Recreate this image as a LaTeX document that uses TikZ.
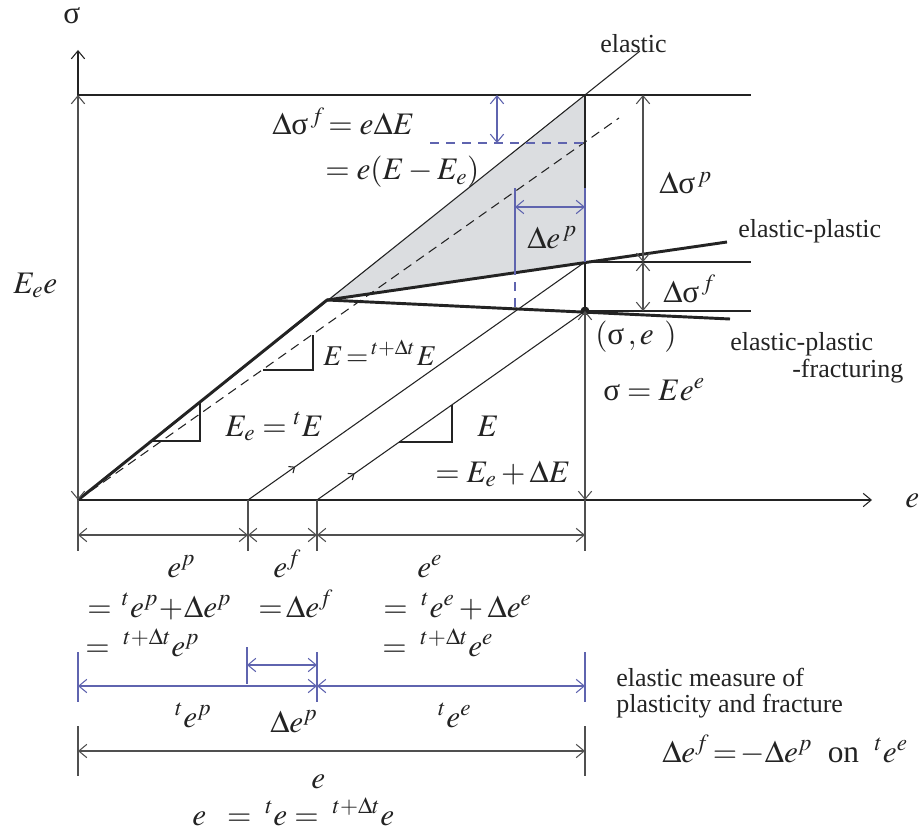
\documentclass[tikz,border=0pt]{standalone}
\usepackage{mathptmx}
\usepackage[no-math]{fontspec}
\setmainfont{Liberation Serif}
\usetikzlibrary{arrows.meta, positioning, decorations.markings}
\definecolor{inkgray}{RGB}{35,35,35}
\definecolor{dimgray}{RGB}{80,80,80}
\definecolor{dimblue}{RGB}{95,100,175}
\definecolor{zonefill}{RGB}{219,221,224}
\newcommand{\sg}{\mbox{σ}}
\tikzset{
    axisline/.style={-{Straight Barb[length=6pt,width=10pt]}, line width=0.8pt, inkgray},
    dimline/.style={{Straight Barb[length=6pt,width=10pt]}-{Straight Barb[length=6pt,width=10pt]},
                    line width=0.8pt, dimgray},
    bluedim/.style={dimline, dimblue},
    guide/.style={line width=0.8pt, inkgray},
    extline/.style={line width=0.8pt, dimgray},
    blueline/.style={line width=0.8pt, dimblue},
    bluedash/.style={blueline, dash pattern=on 7pt off 5pt},
    blackdash/.style={guide, dash pattern=on 7pt off 4.5pt},
    thickcurve/.style={line width=2.2pt, inkgray},
    flow/.style={guide, postaction={decorate},
                 decoration={markings, mark=at position 0.14 with {\arrow{Straight Barb[length=3.5pt,width=6pt]}}}},
    txt/.style={font=\fontsize{19.5}{20.5}\selectfont, inner sep=0pt, text=inkgray, anchor=base west},
    mth/.style={font=\fontsize{23.5}{26}\selectfont, inner sep=0pt, text=inkgray, anchor=base west},
}

\begin{document}
\begin{tikzpicture}[x=0.75pt, y=-0.75pt]
    \useasboundingbox (0,0) rectangle (923,834);

    % points of the stress-strain plot
    \coordinate (O) at (78,500);
    \coordinate (Ytop) at (78,50);
    \coordinate (Xend) at (872,500);
    \coordinate (T) at (78,95);
    \coordinate (Tr) at (751,95);
    \coordinate (A) at (585,95);
    \coordinate (Aext) at (640,51);
    \coordinate (Y) at (327,300);
    \coordinate (B) at (585,262);
    \coordinate (Br) at (751,262);
    \coordinate (S) at (585,311);
    \coordinate (Sr) at (751,311);
    \coordinate (EPend) at (727,242);
    \coordinate (EPFend) at (730,319);
    \coordinate (C) at (585,143);
    \coordinate (Cl) at (430,143);
    \coordinate (Dend) at (619,118);
    \coordinate (P1) at (248,500);
    \coordinate (P2) at (317,500);
    \coordinate (Eb) at (585,500);
    \coordinate (Q1) at (643,95);
    \coordinate (Q2) at (643,262);
    \coordinate (Q3) at (643,311);

    \fill[zonefill] (Y) -- (A) -- (B) -- cycle;

    \draw[guide] (T) -- (Tr);
    \draw[guide] (B) -- (Br);
    \draw[guide] (S) -- (Sr);
    \draw[guide] (A) -- (S);
    \draw[guide] (O) -- (Aext);
    \draw[blackdash] (O) -- (Dend);
    \draw[flow] (P1) -- (B);
    \draw[flow] (P2) -- (S);

    % slope triangles
    \coordinate (tri1a) at (152,441);
    \coordinate (tri1b) at (200,402);
    \coordinate (tri2a) at (263,370);
    \coordinate (tri2b) at (313,335);
    \coordinate (tri3a) at (399,442);
    \coordinate (tri3b) at (452,405);
    \draw[guide] (tri1a) -| (tri1b);
    \draw[guide] (tri2a) -| (tri2b);
    \draw[guide] (tri3a) -| (tri3b);

    \draw[thickcurve] (O) -- (Y) -- (EPend);
    \draw[thickcurve] (Y) -- (EPFend);
    \fill[inkgray] (S) circle (4.5);

    % axes and dimensions
    \draw[axisline] (O) -- (Ytop);
    \draw[axisline] (O) -- (Xend);
    \draw[dimline] (O) -- (T);
    \draw[dimline] (S) -- (Eb);
    \draw[dimline] (Q1) -- (Q2);
    \draw[dimline] (Q2) -- (Q3);

    % blue increments
    \coordinate (F1) at (497,95);
    \coordinate (F2) at (497,143);
    \coordinate (G1) at (515,188);
    \coordinate (G2) at (515,266);
    \coordinate (G3) at (515,309);
    \coordinate (G4) at (585,188);
    \coordinate (H1) at (515,207);
    \coordinate (H2) at (585,207);
    \draw[bluedash] (Cl) -- (C);
    \draw[bluedim] (F1) -- (F2);
    \draw[blueline] (G1) -- (G2);
    \draw[bluedash] (G2) -- (G3);
    \draw[blueline] (G4) -- (B);
    \draw[bluedim] (H1) -- (H2);

    % strain split, first row
    \foreach \x/\n in {78/a, 248/b, 317/c, 585/d} {
        \coordinate (r1\n) at (\x,535);
        \coordinate (x1\n) at (\x,551);
    }
    \draw[extline] (O) -- (x1a);
    \draw[extline] (P1) -- (x1b);
    \draw[extline] (P2) -- (x1c);
    \draw[extline] (Eb) -- (x1d);
    \draw[dimline] (r1a) -- (r1b);
    \draw[dimline] (r1b) -- (r1c);
    \draw[dimline] (r1c) -- (r1d);

    % second row (blue)
    \foreach \x/\n in {78/a, 317/c, 585/d} {
        \coordinate (u2\n) at (\x,652);
        \coordinate (r2\n) at (\x,686);
        \coordinate (l2\n) at (\x,702);
    }
    \coordinate (u2b) at (247,647);
    \coordinate (l2b) at (247,684);
    \coordinate (s2b) at (247,665);
    \coordinate (s2c) at (317,665);
    \draw[blueline] (u2a) -- (l2a);
    \draw[blueline] (u2b) -- (l2b);
    \draw[blueline] (u2c) -- (l2c);
    \draw[blueline] (u2d) -- (l2d);
    \draw[bluedim] (r2a) -- (r2c);
    \draw[bluedim] (r2c) -- (r2d);
    \draw[bluedim] (s2b) -- (s2c);

    % third row
    \foreach \x/\n in {78/a, 585/d} {
        \coordinate (u3\n) at (\x,726);
        \coordinate (r3\n) at (\x,751);
        \coordinate (l3\n) at (\x,776);
    }
    \draw[extline] (u3a) -- (l3a);
    \draw[extline] (u3d) -- (l3d);
    \draw[dimline] (r3a) -- (r3d);

    % labels
    \node[mth] (sigAx) at (63,24) {$\sg$};
    \node[mth] (eAx) at (905,507) {$e$};
    \node[mth] (EeE) at (13,293) {$E_e e$};
    \node[txt] (elab) at (600,53) {elastic};
    \node[mth] (dsf) at (272,135) {$\Delta\sg^{\,f}\!=e\Delta E$};
    \node[mth] (dsf2) at (325,180) {$=e(E-E_e)$};
    \node[mth] (dsp) at (659,194) {$\Delta\sg^{\,p}$};
    \node[mth] (dep) at (527,248) {$\Delta e^{\,p}$};
    \node[txt] (eplab) at (738,237) {elastic-plastic};
    \node[mth] (dsf3) at (663,302) {$\Delta\sg^{\,f}$};
    \node[mth] (state) at (595,344) {$(\sg\,,e\;\,)$};
    \node[txt] (epflab) at (730,350) {elastic-plastic};
    \node[txt] (epflab2) at (792,377) {-fracturing};
    \node[mth] (law) at (603,400) {$\sg = Ee^{e}$};
    \node[mth, font=\fontsize{21.5}{24}\selectfont] (Elab) at (323,365) {$E\,{=}\,{}^{t+\Delta t}\mkern1mu E$};
    \node[mth] (Eelab) at (225,436) {$E_e = {}^{t}E$};
    \node[mth] (E3) at (477,436) {$E$};
    \node[mth] (E4) at (435,482) {$= E_e + \Delta E$};

    \node[mth] (ep) at (167,577) {$e^{p}$};
    \node[mth] (ef) at (273,577) {$e^{f}$};
    \node[mth] (ee) at (417,577) {$e^{e}$};
    \node[mth] (ep2) at (87,617) {$=\,{}^{t}e^{p}\!+\!\Delta e^{p}$};
    \node[mth] (ef2) at (258,617) {$=\!\Delta e^{f}$};
    \node[mth] (ee2) at (383,617) {$=\;{}^{t}e^{e}+\Delta e^{e}$};
    \node[mth] (ep3) at (85,656) {$=\;{}^{t+\Delta t}e^{p}$};
    \node[mth] (ee3) at (382,656) {$=\;{}^{t+\Delta t}e^{e}$};

    \node[mth] (tep) at (175,727) {${}^{t}e^{p}$};
    \node[mth] (dep2) at (270,732) {$\Delta e^{p}$};
    \node[mth] (tee) at (438,727) {${}^{t}e^{e}$};
    \node[mth] (etot) at (311,788) {$e$};
    \node[mth] (etot2) at (192,825) {$e\;\;=\;{}^{t}e=\;{}^{t+\Delta t}e$};

    \node[txt] (measure) at (616,686) {elastic measure of};
    \node[txt] (measure2) at (616,712) {plasticity and fracture};
    \node[mth] (rule) at (662,762) {$\Delta e^{f}\!=\!-\Delta e^{p}$\ \ \textnormal{on}\ \ ${}^{t}e^{e}$};
\end{tikzpicture}
\end{document}
